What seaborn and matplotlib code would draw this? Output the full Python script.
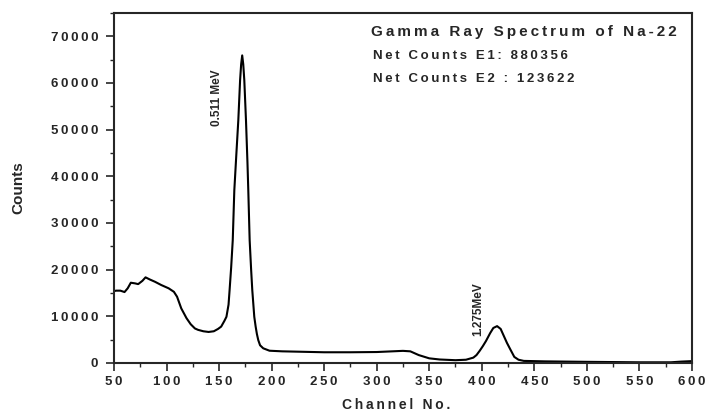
import numpy as np
import matplotlib
matplotlib.use("Agg")
import matplotlib.pyplot as plt
import seaborn as sns
import pandas as pd
from matplotlib.ticker import MultipleLocator, FuncFormatter

# spectrum (channel, counts)
channel = [50, 52, 56, 60, 63, 66, 70, 73, 77, 80, 84, 89, 95, 102, 107, 110,
           114, 119, 123, 127, 130, 135, 140, 145, 149, 152, 155, 157, 159, 160,
           161.5, 163, 164.5, 166.5, 168.3, 170, 171, 172, 173, 174, 175.6, 177,
           177.8, 179.1, 180.5, 181.6, 183.5, 184.8, 186, 187.3, 189, 192, 198,
           210, 230, 250, 275, 300, 315, 325, 332, 340, 350, 360, 375, 385, 392,
           395, 398, 401, 404, 408, 411, 414.6, 418, 421, 424, 427, 431, 435,
           440, 460, 500, 550, 580, 590, 600]
counts = [15400, 15500, 15500, 15200, 16000, 17200, 17060, 16900, 17600, 18350,
          17900, 17400, 16700, 16000, 15250, 14200, 11700, 9600, 8300, 7400,
          7100, 6800, 6650, 6800, 7300, 7800, 9000, 9900, 12500, 15600,
          20500, 26300, 37000, 45000, 52000, 60600, 64000, 65900, 64000, 60600,
          52000, 43000, 37000, 26300, 20000, 15600, 9900, 7800, 6200, 4900,
          3800, 3150, 2630, 2500, 2400, 2300, 2300, 2350, 2500, 2600, 2500,
          1700, 1000, 750, 600, 700, 1150, 1700, 2600, 3600, 4700, 6400, 7500,
          7900, 7300, 5800, 4300, 3000, 1300, 700, 450, 350, 250, 150, 150,
          300, 400]

title_lines = ["Gamma Ray Spectrum of Na-22", "Net Counts E1: 880356",
               "Net Counts E2 : 123622"]
peak_labels = ["0.511 MeV", "1.275MeV"]


def spaced(s):
    # imitate the wide letter spacing of the original
    return "\u2009".join(s)


df = pd.DataFrame({"Channel": channel, "Counts": counts})

sns.set_style("ticks")
plt.rcParams["font.family"] = ["Liberation Sans", "DejaVu Sans"]
plt.rcParams["font.weight"] = "bold"

fig = plt.figure(figsize=(7.06, 4.17), dpi=100)
ax = fig.add_axes([0.1615, 0.1295, 0.8185, 0.8395])
sns.lineplot(data=df, x="Channel", y="Counts", ax=ax, color="black",
             linewidth=1.5, sort=False)

ax.set_xlim(50, 600)
ax.set_ylim(0, 75000)
ax.xaxis.set_major_locator(MultipleLocator(50))
ax.xaxis.set_minor_locator(MultipleLocator(25))
ax.yaxis.set_major_locator(MultipleLocator(10000))
ax.yaxis.set_minor_locator(MultipleLocator(5000))
ax.xaxis.set_major_formatter(FuncFormatter(lambda v, p: spaced(f"{v:.0f}")))
ax.yaxis.set_major_formatter(FuncFormatter(lambda v, p: spaced(f"{v:.0f}")))
ax.tick_params(which="major", direction="out", length=5.5, width=1.2,
               labelsize=9.5)
ax.tick_params(axis="y", which="major", pad=6)
ax.tick_params(axis="x", which="major", pad=4)
ax.tick_params(which="minor", direction="out", length=3, width=1.0)
for lab in ax.get_xticklabels() + ax.get_yticklabels():
    lab.set_fontweight("bold")
for sp in ax.spines.values():
    sp.set_visible(True)
    sp.set_linewidth(1.5)

ax.set_xlabel(spaced("Channel No."), fontsize=10, fontweight="bold", labelpad=7)
ax.xaxis.label.set_x(0.488)
ax.set_ylabel("Counts", fontsize=11, fontweight="bold", labelpad=18)

ax.text(0.445, 0.945, spaced(title_lines[0]), transform=ax.transAxes,
        fontsize=11, fontweight="bold", va="center")
ax.text(0.448, 0.878, spaced(title_lines[1]), transform=ax.transAxes,
        fontsize=9.5, fontweight="bold", va="center")
ax.text(0.448, 0.812, spaced(title_lines[2]), transform=ax.transAxes,
        fontsize=9.5, fontweight="bold", va="center")

ax.text(148, 56900, peak_labels[0], rotation=90, fontsize=8.5,
        fontweight="bold", ha="center", va="center")
ax.text(397, 11600, peak_labels[1], rotation=90, fontsize=8.5,
        fontweight="bold", ha="center", va="center")

fig.savefig("out.png", dpi=100)
